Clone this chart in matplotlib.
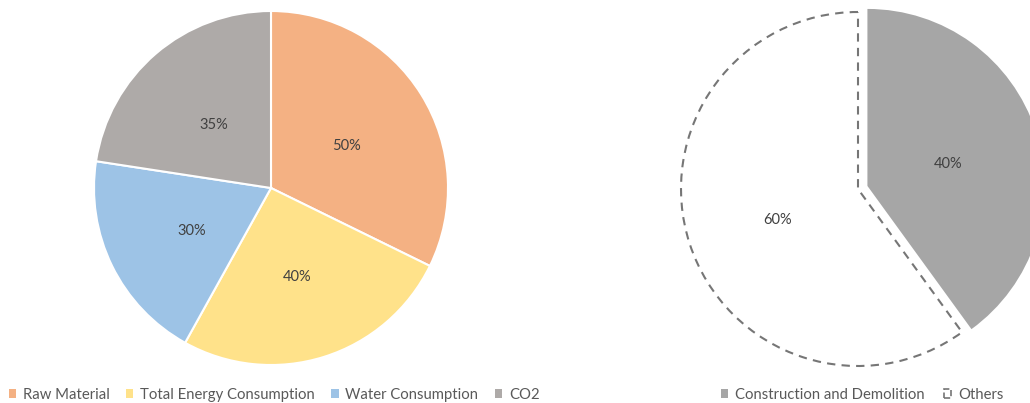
import matplotlib.pyplot as plt
from matplotlib.patches import Patch
from matplotlib.transforms import offset_copy

plt.rcParams['font.family'] = ['Lato', 'DejaVu Sans']

# left pie data
left_labels = ['Raw Material', 'Total Energy Consumption', 'Water Consumption', 'CO2']
left_values = [50, 40, 30, 35]
left_colors = ['#F4B183', '#FFE28A', '#9DC3E6', '#AEAAA8']

# right pie data
right_labels = ['Construction and Demolition', 'Others']
right_values = [40, 60]

W, H = 1030, 403
fig = plt.figure(figsize=(W / 100, H / 100), dpi=100)

R = 177  # pie radius in px


def pie_axes(cx, cy):
    # cx, cy: pie centre in pixels from the top-left corner
    return fig.add_axes([(cx - R) / W, (H - cy - R) / H, 2 * R / W, 2 * R / H])


# left pie
ax1 = pie_axes(271, 188)
total = sum(left_values)
w1, _, t1 = ax1.pie(left_values, colors=left_colors, startangle=90, counterclock=False,
                    radius=1, autopct=lambda p: '%d%%' % round(p * total / 100),
                    pctdistance=0.5, wedgeprops=dict(edgecolor='white', linewidth=1.5))
ax1.set_xlim(-1, 1)
ax1.set_ylim(-1, 1)
ax1.axis('off')

# right pie
ax2 = pie_axes(858, 189)
total2 = sum(right_values)
w2, _, t2 = ax2.pie(right_values, colors=['#A6A6A6', 'white'], startangle=90, counterclock=False,
                    radius=1, explode=[0.056, 0], autopct=lambda p: '%d%%' % round(p * total2 / 100),
                    pctdistance=0.48)
w2[1].set_edgecolor('#767676')
w2[1].set_linestyle((0, (4, 3)))
w2[1].set_linewidth(1.5)
ax2.set_xlim(-1, 1)
ax2.set_ylim(-1, 1)
ax2.axis('off')

# percentage labels sit a little lower in the original
for ax, texts in ((ax1, t1), (ax2, t2)):
    for t in texts:
        t.set_color('#404040')
        t.set_fontsize(10.5)
        t.set_va('center_baseline')
        t.set_transform(offset_copy(ax.transData, fig=fig, y=-3, units='dots'))

# legends
leg_kw = dict(loc='center', ncol=4, frameon=False, fontsize=10.7, handlelength=0.5,
              handleheight=0.5, handletextpad=0.45, labelcolor='#595959')
h1 = [Patch(facecolor=c, edgecolor='none') for c in left_colors]
fig.legend(h1, left_labels, bbox_to_anchor=(274 / W, 8 / H), columnspacing=1.1, **leg_kw)

h2 = [Patch(facecolor='#A6A6A6', edgecolor='none'),
      Patch(facecolor='white', edgecolor='#767676', linestyle='--', linewidth=1.2)]
fig.legend(h2, right_labels, bbox_to_anchor=(862 / W, 8 / H), columnspacing=1.3, **leg_kw)

plt.savefig('out.png', dpi=100)
